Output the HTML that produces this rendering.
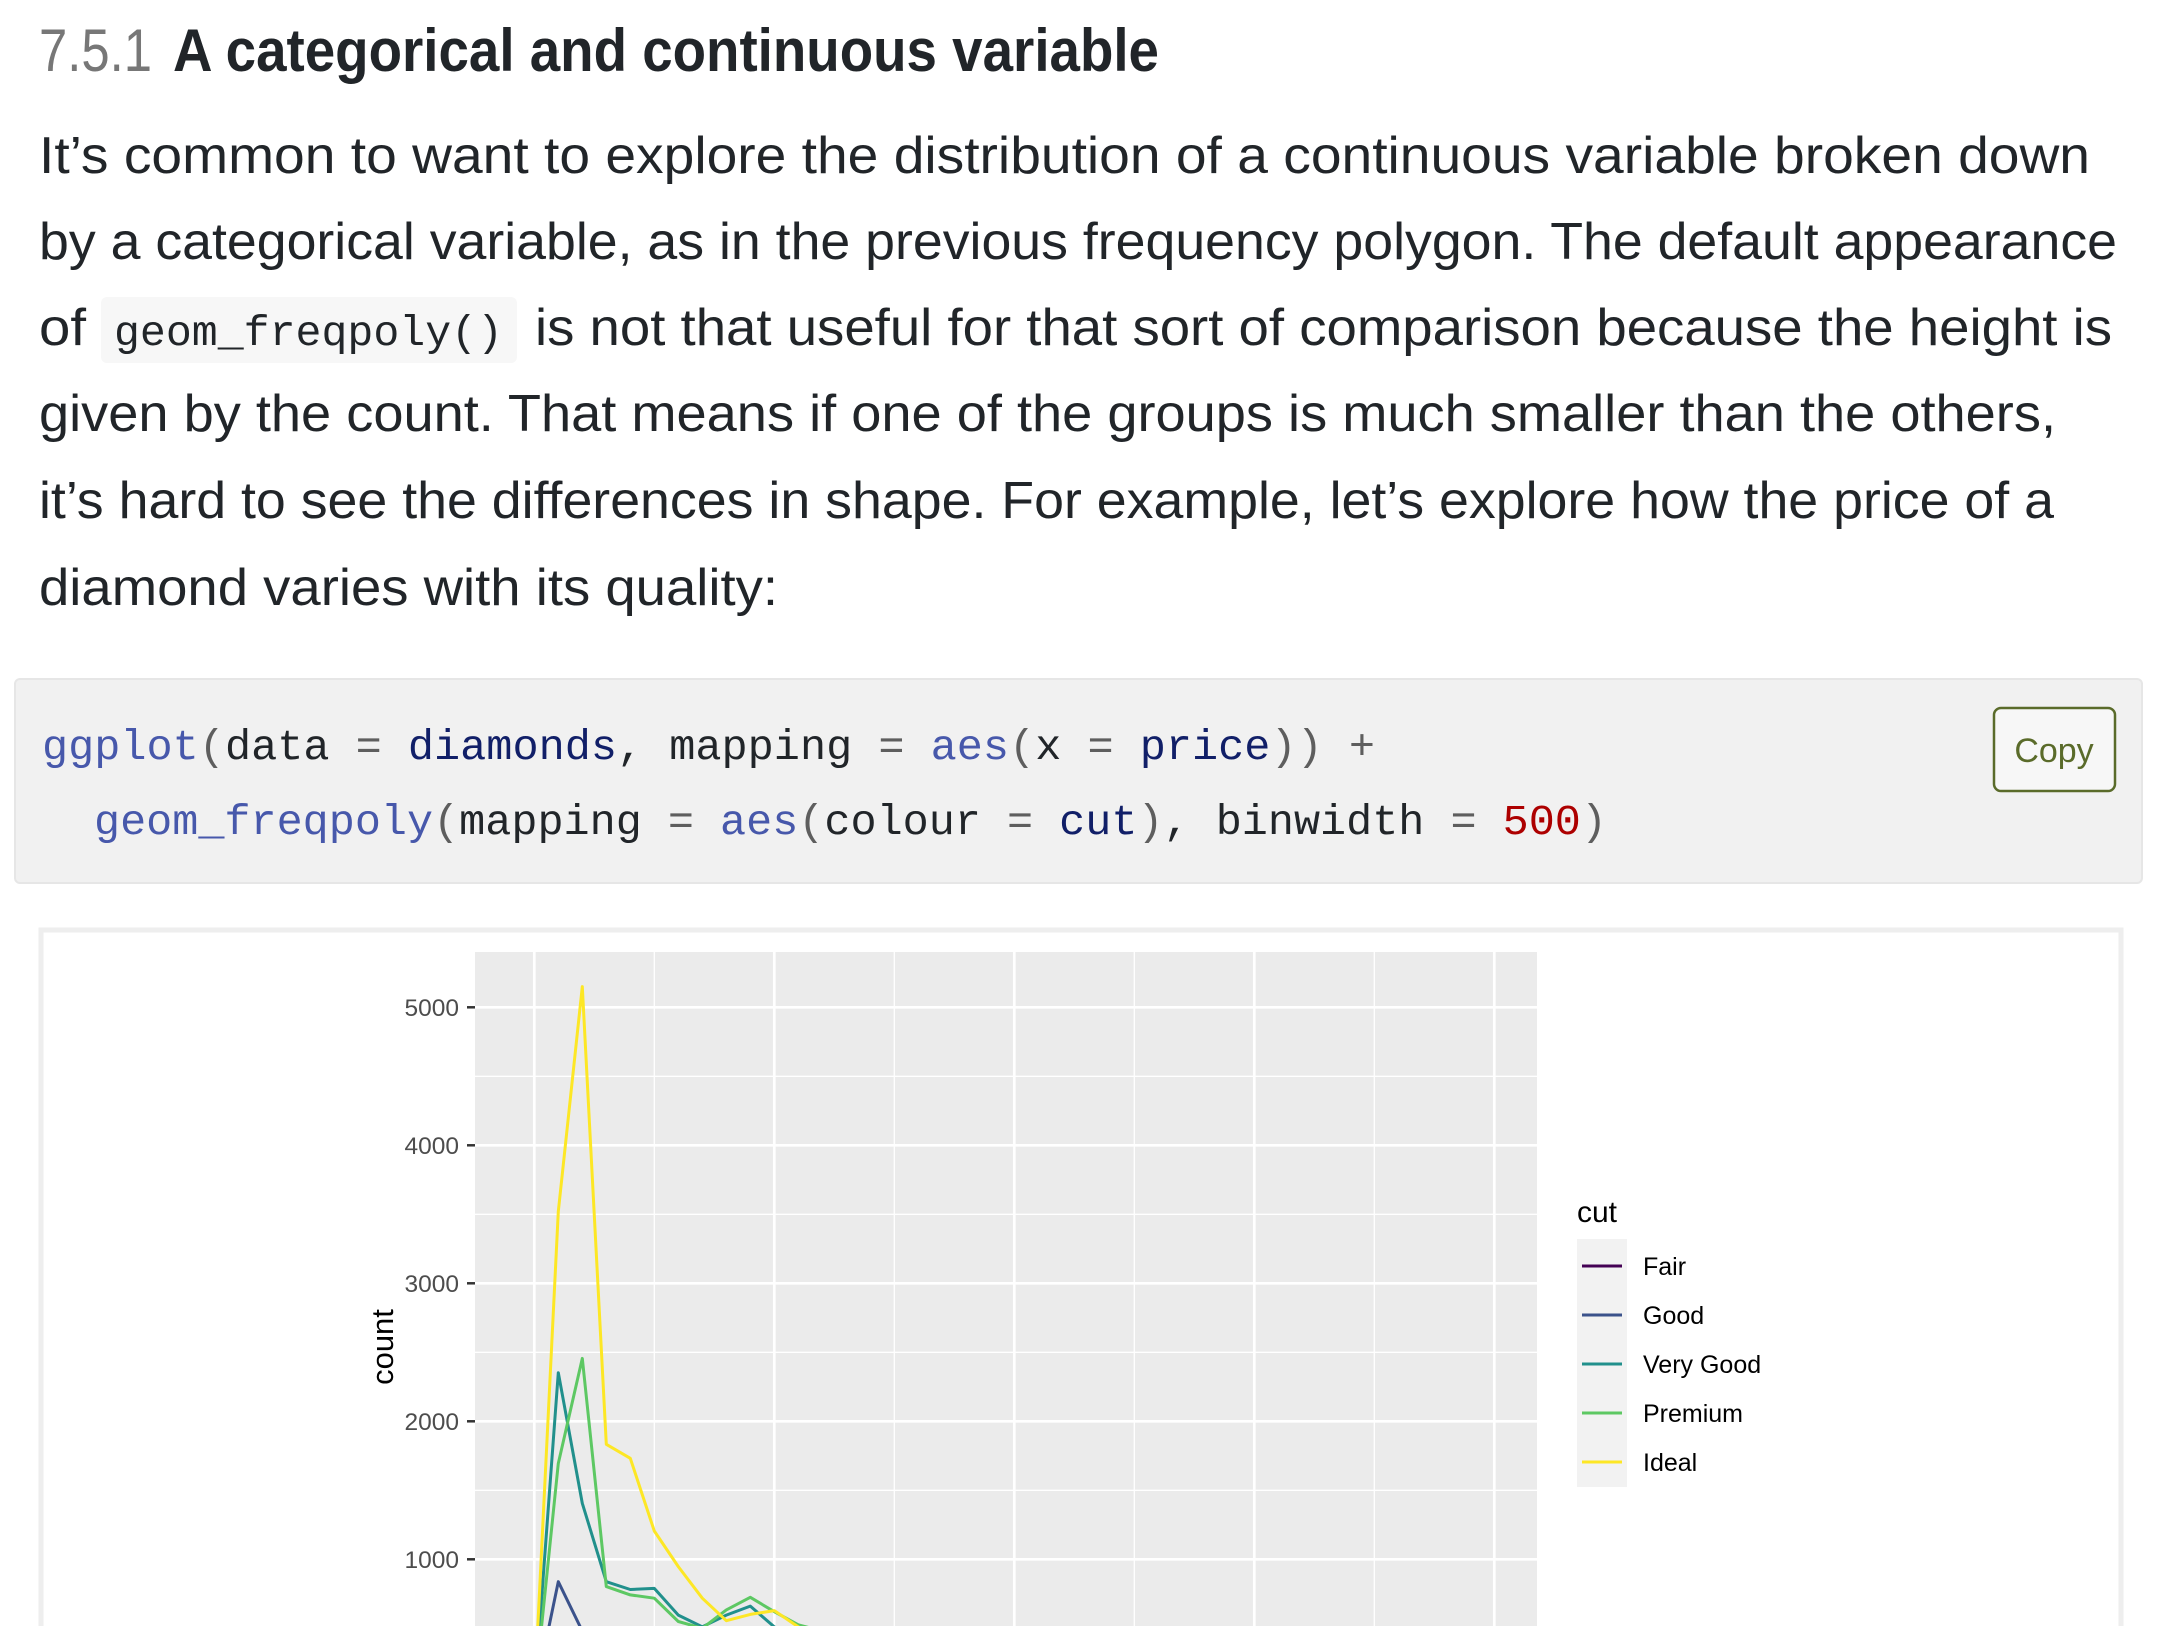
<!DOCTYPE html>
<html><head><meta charset="utf-8">
<style>
html,body{margin:0;padding:0;background:#fff;}
body{width:2166px;height:1626px;overflow:hidden;position:relative;}
svg{position:absolute;left:0;top:0;}
</style></head>
<body>
<svg width="2166" height="1626" viewBox="0 0 2166 1626" xmlns="http://www.w3.org/2000/svg">
  <g font-family="Liberation Sans, sans-serif">
    <text x="39" y="71" font-size="60" fill="#777" textLength="113" lengthAdjust="spacingAndGlyphs">7.5.1</text>
    <text x="173" y="71" font-size="60" font-weight="bold" fill="#212529" textLength="986" lengthAdjust="spacingAndGlyphs">A categorical and continuous variable</text>
  </g>
  <g font-family="Liberation Sans, sans-serif" font-size="52" fill="#212529">
    <text x="39" y="173" textLength="2051" lengthAdjust="spacingAndGlyphs">It’s common to want to explore the distribution of a continuous variable broken down</text>
    <text x="39" y="259" textLength="2078" lengthAdjust="spacingAndGlyphs">by a categorical variable, as in the previous frequency polygon. The default appearance</text>
    <text x="39" y="345" textLength="47" lengthAdjust="spacingAndGlyphs">of</text>
    <rect x="101" y="297" width="416" height="66" rx="6" fill="#f7f7f7"/>
    <text x="114" y="345" font-family="Liberation Mono, monospace" font-size="43" textLength="389" lengthAdjust="spacingAndGlyphs">geom_freqpoly()</text>
    <text x="535" y="345" textLength="1577" lengthAdjust="spacingAndGlyphs">is not that useful for that sort of comparison because the height is</text>
    <text x="39" y="431" textLength="2017" lengthAdjust="spacingAndGlyphs">given by the count. That means if one of the groups is much smaller than the others,</text>
    <text x="39" y="518" textLength="2015" lengthAdjust="spacingAndGlyphs">it’s hard to see the differences in shape. For example, let’s explore how the price of a</text>
    <text x="39" y="605" textLength="739" lengthAdjust="spacingAndGlyphs">diamond varies with its quality:</text>
  </g>
  <g font-family="Liberation Mono, monospace" font-size="43">
    <rect x="15" y="679" width="2127" height="204" rx="5" fill="#f1f1f1" stroke="#e6e6e6" stroke-width="2"/>
    <text x="42" y="759" textLength="1333" lengthAdjust="spacingAndGlyphs"><tspan fill="#4758AB">ggplot</tspan><tspan fill="#5E5E5E">(</tspan><tspan fill="#212529">data</tspan><tspan fill="#5E5E5E"> = </tspan><tspan fill="#111F68">diamonds</tspan><tspan fill="#212529">, mapping</tspan><tspan fill="#5E5E5E"> = </tspan><tspan fill="#4758AB">aes</tspan><tspan fill="#5E5E5E">(</tspan><tspan fill="#212529">x</tspan><tspan fill="#5E5E5E"> = </tspan><tspan fill="#111F68">price</tspan><tspan fill="#5E5E5E">)) +</tspan></text>
    <text x="94" y="834" textLength="1513" lengthAdjust="spacingAndGlyphs"><tspan fill="#4758AB">geom_freqpoly</tspan><tspan fill="#5E5E5E">(</tspan><tspan fill="#212529">mapping</tspan><tspan fill="#5E5E5E"> = </tspan><tspan fill="#4758AB">aes</tspan><tspan fill="#5E5E5E">(</tspan><tspan fill="#212529">colour</tspan><tspan fill="#5E5E5E"> = </tspan><tspan fill="#111F68">cut</tspan><tspan fill="#5E5E5E">)</tspan><tspan fill="#212529">, binwidth</tspan><tspan fill="#5E5E5E"> = </tspan><tspan fill="#AD0000">500</tspan><tspan fill="#5E5E5E">)</tspan></text>
    <g>
      <rect x="1994" y="708" width="121" height="83" rx="7" fill="#f7f7f7" stroke="#5a6b2a" stroke-width="2.5"/>
      <text x="2054" y="762" text-anchor="middle" font-family="Liberation Sans, sans-serif" font-size="34" fill="#5a6b2a">Copy</text>
    </g>
  </g>
  <rect x="41" y="930" width="2080" height="720" fill="#fff" stroke="#eeeeee" stroke-width="5"/>
  <defs><clipPath id="pclip"><rect x="475" y="952" width="1062" height="700"/></clipPath></defs>
  <rect x="475" y="952" width="1062" height="700" fill="#EBEBEB"/>
  <g id="grid" clip-path="url(#pclip)"></g>
  <g id="yaxis" font-family="Liberation Sans, sans-serif"></g>
  <text x="0" y="0" transform="translate(393,1347) rotate(-90)" text-anchor="middle" font-family="Liberation Sans, sans-serif" font-size="31" fill="#000">count</text>
  <g id="series" clip-path="url(#pclip)"></g>
  <g id="legend" font-family="Liberation Sans, sans-serif">
    <text x="1577" y="1222" font-size="30" fill="#000">cut</text>
    <rect x="1577" y="1239" width="50" height="248" fill="#F2F2F2"/>
  </g>
</svg>
<script>
const cuts = ["Fair","Good","Very Good","Premium","Ideal"];
const colors = ["#440154","#3B528B","#21908C","#5DC863","#FDE725"];
const binCenters = [0,500,1000,1500,2000,2500,3000,3500,4000,4500,5000,5500,6000,6500,7000,7500,8000,8500,9000,9500,10000,10500,11000,11500,12000,12500,13000,13500,14000,14500,15000,15500,16000,16500,17000,17500,18000,18500,19000];
const fairCounts = [0,30,200,130,110,100,95,90,85,80,75,70,60,55,50,45,40,35,30,28,26,24,22,20,18,16,14,12,12,10,10,8,8,6,6,5,4,3,0];
const goodCounts = [0,838,480,400,380,370,330,300,310,320,290,250,200,170,150,130,110,100,90,80,70,65,60,55,50,45,40,35,32,30,28,25,22,20,18,16,14,10,0];
const veryGoodCounts = [0,2352,1406,838,781,789,596,511,596,661,510,430,380,330,290,250,220,190,170,150,130,120,110,100,90,80,75,70,65,60,55,50,45,40,35,30,25,20,0];
const premiumCounts = [0,1695,2456,802,742,718,549,500,633,725,620,525,480,430,380,340,300,270,240,210,190,170,160,150,140,130,120,110,100,95,90,85,80,75,70,60,50,40,0];
const idealCounts = [0,3520,5150,1833,1732,1205,947,718,555,601,628,510,450,400,350,310,270,240,210,190,170,150,140,130,120,110,100,95,90,85,80,75,70,65,60,55,50,40,0];
const yTicks = [1000,2000,3000,4000,5000];
const yTickLabels = ["1000","2000","3000","4000","5000"];
const xMajor = [0,5000,10000,15000,20000];
const xMinor = [2500,7500,12500,17500];
const yMinor = [500,1500,2500,3500,4500];

const NS = "http://www.w3.org/2000/svg";
const xScale = p => 534.3 + p * 0.048;
const yScale = c => 1697.3 - c * 0.138;
function mk(tag, attrs, parent){ const e=document.createElementNS(NS,tag); for(const k in attrs) e.setAttribute(k,attrs[k]); parent.appendChild(e); return e; }

const grid = document.getElementById('grid');
yMinor.forEach(v=>{ const l=mk('line',{x1:475,x2:1537,y1:yScale(v),y2:yScale(v),stroke:'#fff','stroke-width':1.3},grid);

 });
xMinor.forEach(v=>{ const l=mk('line',{x1:xScale(v),x2:xScale(v),y1:952,y2:1652,stroke:'#fff','stroke-width':1.3},grid);

 });
yTicks.forEach(v=>{ const l=mk('line',{x1:475,x2:1537,y1:yScale(v),y2:yScale(v),stroke:'#fff','stroke-width':2.7},grid);

 });
xMajor.forEach(v=>{ const l=mk('line',{x1:xScale(v),x2:xScale(v),y1:952,y2:1652,stroke:'#fff','stroke-width':2.7},grid);

 });

const yaxis = document.getElementById('yaxis');
yTicks.forEach((v,i)=>{
  const t=mk('line',{x1:467,x2:475,y1:yScale(v),y2:yScale(v),stroke:'#333','stroke-width':2.5},yaxis);
  
  
  const lb=mk('text',{x:459,y:yScale(v)+8.5,'text-anchor':'end','font-size':24.5,fill:'#4D4D4D'},yaxis);
  lb.textContent=yTickLabels[i];
  
  
});

const seriesData = [fairCounts,goodCounts,veryGoodCounts,premiumCounts,idealCounts];
const sg = document.getElementById('series');
seriesData.forEach((arr,si)=>{
  const pts = arr.map((c,i)=>xScale(binCenters[i]).toFixed(1)+','+yScale(c).toFixed(1)).join(' ');
  const pl = mk('polyline',{points:pts,fill:'none',stroke:colors[si],'stroke-width':3,'stroke-linejoin':'round'},sg);
  
  
});

const lg = document.getElementById('legend');
cuts.forEach((c,i)=>{
  const cy = 1266 + i*49;
  const kl = mk('line',{x1:1582,x2:1622,y1:cy,y2:cy,stroke:colors[i],'stroke-width':3},lg);
  
  
  const tx = mk('text',{x:1643,y:cy+9,'font-size':25,fill:'#000'},lg);
  tx.textContent = c;
  
  
});
</script>
</body></html>
